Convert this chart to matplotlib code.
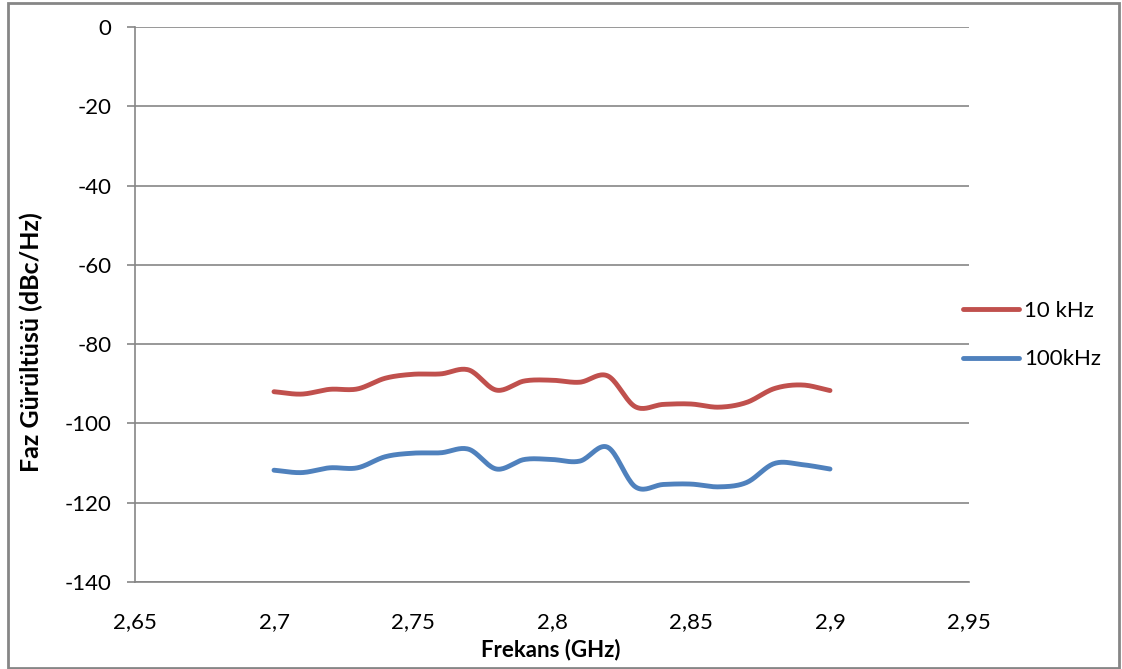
import numpy as np
import matplotlib
matplotlib.use("Agg")
import matplotlib.pyplot as plt
from matplotlib.ticker import FuncFormatter, MultipleLocator
from matplotlib.patches import Rectangle

# data
freq = [2.70, 2.71, 2.72, 2.73, 2.74, 2.75, 2.76, 2.77, 2.78, 2.79, 2.80,
        2.81, 2.82, 2.83, 2.84, 2.85, 2.86, 2.87, 2.88, 2.89, 2.90]
pn_10k = [-92.0, -92.6, -91.4, -91.3, -88.6, -87.6, -87.5, -86.5, -91.6, -89.3, -89.1,
          -89.6, -88.0, -95.8, -95.2, -95.1, -95.9, -94.7, -91.2, -90.3, -91.7]
pn_100k = [-111.8, -112.4, -111.2, -111.2, -108.4, -107.5, -107.4, -106.5, -111.5, -109.1, -109.1,
           -109.5, -106.0, -116.0, -115.4, -115.3, -116.0, -114.9, -110.1, -110.4, -111.5]
labels = ["10 kHz", "100kHz"]
colors = ["#C0504D", "#4F81BD"]


def smooth(x, y, n=20):
    # catmull-rom, like excel's "smoothed line"
    x = np.asarray(x, float)
    y = np.asarray(y, float)
    px = np.concatenate([[2 * x[0] - x[1]], x, [2 * x[-1] - x[-2]]])
    py = np.concatenate([[2 * y[0] - y[1]], y, [2 * y[-1] - y[-2]]])
    t = np.linspace(0, 1, n, endpoint=False)
    xs, ys = [], []
    for i in range(1, len(px) - 2):
        for p, out in ((px, xs), (py, ys)):
            p0, p1, p2, p3 = p[i - 1], p[i], p[i + 1], p[i + 2]
            out.extend(0.5 * (2 * p1 + (-p0 + p2) * t + (2 * p0 - 5 * p1 + 4 * p2 - p3) * t ** 2
                              + (-p0 + 3 * p1 - 3 * p2 + p3) * t ** 3))
    xs.append(x[-1])
    ys.append(y[-1])
    return np.array(xs), np.array(ys)


plt.rcParams['font.family'] = ['Lato', 'DejaVu Sans']

fig = plt.figure(figsize=(11.22, 6.69), dpi=100)
ax = fig.add_axes([135 / 1122, 1 - 582 / 669, 834 / 1122, 555 / 669])

for ys, lab, c in zip([pn_10k, pn_100k], labels, colors):
    sx, sy = smooth(freq, ys)
    ax.plot(sx, sy, color=c, lw=3.5, label=lab, solid_capstyle='round', zorder=3)

ax.set_xlim(2.65, 2.95)
ax.set_ylim(-140, 0)
ax.xaxis.set_major_locator(MultipleLocator(0.05))
ax.yaxis.set_major_locator(MultipleLocator(20))
fmt = FuncFormatter(lambda v, p: ('%g' % round(v, 2)).replace('.', ','))
ax.xaxis.set_major_formatter(fmt)
ax.yaxis.set_major_formatter(fmt)

ax.grid(axis='y', color='#868686', lw=1.2)
ax.set_axisbelow(True)
for s in ['top', 'right']:
    ax.spines[s].set_visible(False)
for s in ['left', 'bottom']:
    ax.spines[s].set_color('#868686')
    ax.spines[s].set_linewidth(1.2)

ax.tick_params(axis='y', length=6, width=1.2, color='#868686', pad=11, labelsize=16)
ax.tick_params(axis='x', length=0, pad=22, labelsize=16)

ax.set_ylabel("Faz Gürültüsü (dBc/Hz)", fontsize=18, fontweight='bold')
ax.yaxis.label.set_va('center')
ax.yaxis.set_label_coords((31 - 135) / 834, 0.432)
ax.set_xlabel("Frekans (GHz)", fontsize=16, fontweight='bold')
ax.xaxis.label.set_va('center')
ax.xaxis.set_label_coords((551 - 135) / 834, (582 - 650) / 555)

ax.legend(loc='center left', bbox_to_anchor=(943 / 1122, 1 - 335 / 669),
          bbox_transform=fig.transFigure, frameon=False, fontsize=16,
          handlelength=2.5, handletextpad=0.25, labelspacing=1.3)

fig.patches.append(Rectangle((8 / 1122, 1.5 / 669), 1111 / 1122, 665 / 669,
                             transform=fig.transFigure, fill=False,
                             edgecolor='#868686', lw=2))

fig.savefig("out.png", dpi=100)
